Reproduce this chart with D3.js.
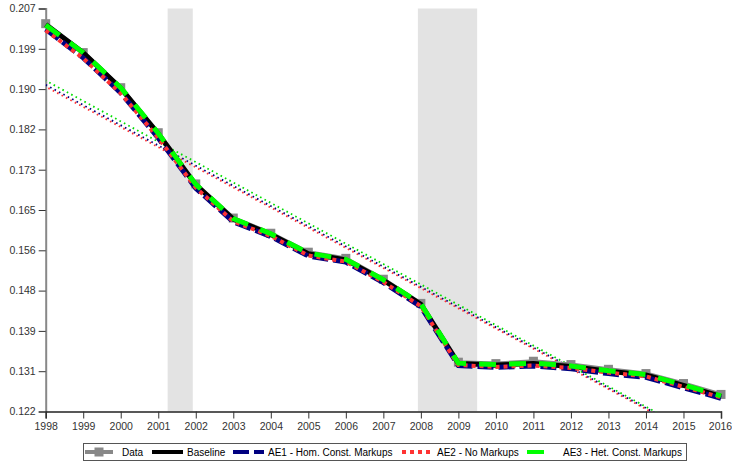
<!DOCTYPE html>
<html>
<head>
<meta charset="UTF-8">
<title>Markups</title>
<script src="https://cdn.jsdelivr.net/npm/d3@7"></script>
<style>
  body { margin: 0; background: #fff; }
  svg { font-family: "Liberation Sans", Arial, sans-serif; }
  .tick text { fill: #333; font-size: 10.5px; }
  .legend text { font-size: 10px; fill: #000; }
</style>
</head>
<body>
<div id="graphe"></div>
<script>
// années
var years = d3.range(1998, 2017);

var dataSeries = [0.2038, 0.1977, 0.1903, 0.1808, 0.1700, 0.1628, 0.1596, 0.1556, 0.1543, 0.1499,
                  0.1448, 0.1324, 0.1321, 0.1326, 0.1319, 0.1309, 0.1300, 0.1279, 0.1256];
var baseline   = [0.2036, 0.1977, 0.1902, 0.1806, 0.1698, 0.1626, 0.1594, 0.1553, 0.1540, 0.1497,
                  0.1446, 0.1321, 0.1318, 0.1321, 0.1315, 0.1305, 0.1297, 0.1275, 0.1252];
var ae1        = [0.2026, 0.1966, 0.1892, 0.1797, 0.1691, 0.1620, 0.1589, 0.1548, 0.1535, 0.1492,
                  0.1441, 0.1317, 0.1313, 0.1316, 0.1310, 0.1300, 0.1292, 0.1270, 0.1248];
var ae2        = [0.2024, 0.1965, 0.1891, 0.1797, 0.1692, 0.1621, 0.1590, 0.1549, 0.1536, 0.1493,
                  0.1442, 0.1318, 0.1314, 0.1317, 0.1312, 0.1302, 0.1294, 0.1272, 0.1250];
var ae3        = [0.2035, 0.1977, 0.1903, 0.1807, 0.1699, 0.1627, 0.1595, 0.1554, 0.1541, 0.1498,
                  0.1447, 0.1322, 0.1319, 0.1322, 0.1316, 0.1306, 0.1298, 0.1276, 0.1253];

// tendances linéaires (valeurs en 1998 et 2016)
var trendYears = [1998, 2016];
var trendAE1 = [0.1909, 0.1142];
var trendAE2 = [0.1905, 0.1140];
var trendAE3 = [0.1918, 0.1144];

// récessions
var recessions = [[2001.25, 2001.92], [2007.92, 2009.5]];

var yTickVals = [0.122, 0.1305, 0.139, 0.1475, 0.156, 0.1645, 0.173, 0.1815, 0.190, 0.1985, 0.207];
var yTickLabels = ["0.122", "0.131", "0.139", "0.148", "0.156", "0.165", "0.173", "0.182", "0.190", "0.199", "0.207"];

var legendLabels = ["Data", "Baseline", "AE1 - Hom. Const. Markups", "AE2 - No Markups", "AE3 - Het. Const. Markups"];

var width = 732, height = 462;
var svg = d3.select("#graphe").append("svg")
  .attr("width", width)
  .attr("height", height);

var x = d3.scaleLinear().domain([1998, 2016]).range([45.7, 721]);
var y = d3.scaleLinear().domain([0.122, 0.207]).range([411.5, 8.5]);

svg.append("clipPath").attr("id", "plot")
  .append("rect")
  .attr("x", x(1998)).attr("y", y(0.207))
  .attr("width", x(2016) - x(1998) + 10).attr("height", y(0.122) - y(0.207));

// zones grises
svg.append("g").selectAll("rect")
  .data(recessions)
  .enter().append("rect")
  .attr("x", function(d) { return x(d[0]); })
  .attr("width", function(d) { return x(d[1]) - x(d[0]); })
  .attr("y", y(0.207))
  .attr("height", y(0.122) - y(0.207))
  .style("fill", "#e3e3e3");

// axes
var yAxis = svg.append("g")
  .attr("transform", "translate(" + x(1998) + ",0)")
  .call(d3.axisLeft(y).tickValues(yTickVals).tickSize(7).tickPadding(3)
    .tickFormat(function(d, i) { return yTickLabels[i]; }));
yAxis.select(".domain").attr("stroke", "#888").attr("stroke-width", 2);
yAxis.selectAll(".tick line").attr("stroke", "#333");

var xAxis = svg.append("g")
  .attr("transform", "translate(0," + y(0.122) + ")")
  .call(d3.axisBottom(x).tickValues(years).tickSize(7).tickPadding(4).tickFormat(d3.format("d")));
xAxis.select(".domain").attr("stroke", "#222").attr("stroke-width", 1.5);
xAxis.selectAll(".tick line").attr("stroke", "#333");
xAxis.selectAll(".tick text").filter(function(d) { return d === 2016; }).attr("dx", "-1px");

// tendances
var trendLine = d3.line()
  .x(function(d, i) { return x(trendYears[i]); })
  .y(function(d) { return y(d); });

var gt = svg.append("g").attr("clip-path", "url(#plot)");
[[trendAE1, "#000080", 0], [trendAE2, "#ff3333", 2], [trendAE3, "#00dd00", 1]].forEach(function(t) {
  gt.append("path")
    .attr("d", trendLine(t[0]))
    .attr("fill", "none")
    .attr("stroke", t[1])
    .attr("stroke-width", 1.8)
    .attr("stroke-dasharray", "1.6,3.4")
    .attr("stroke-dashoffset", t[2]);
});

// séries
var line = d3.line()
  .x(function(d, i) { return x(years[i]); })
  .y(function(d) { return y(d); });

var styles = [
  { data: dataSeries, color: "#888888", width: 4, dash: null, len: 28 },
  { data: baseline, color: "#000000", width: 5, dash: null, len: 31 },
  { data: ae1, color: "#000080", width: 5, dash: "16,5", len: 31 },
  { data: ae2, color: "#ff3333", width: 4, dash: "4,4", len: 31 },
  { data: ae3, color: "#00ff00", width: 5, dash: "17,13", len: 28 }
];

styles.forEach(function(s, k) {
  svg.append("path")
    .attr("d", line(s.data))
    .attr("fill", "none")
    .attr("stroke", s.color)
    .attr("stroke-width", s.width)
    .attr("stroke-dasharray", s.dash);
  if (k === 0) {
    svg.append("g").selectAll("rect")
      .data(s.data)
      .enter().append("rect")
      .attr("x", function(d, i) { return x(years[i]) - 4.5; })
      .attr("y", function(d) { return y(d) - 4.5; })
      .attr("width", 9).attr("height", 9)
      .style("fill", "#888888");
  }
});

// légende
var leg = svg.append("g").attr("class", "legend");
leg.append("rect")
  .attr("x", 83.5).attr("y", 443.5).attr("width", 603).attr("height", 17)
  .attr("fill", "#fff").attr("stroke", "#555").attr("stroke-width", 1);

var legX = [85, 152, 233, 402, 527];
var legTx = [122, 187, 268, 437, 563];
legendLabels.forEach(function(lab, k) {
  var s = styles[k], x0 = legX[k], ly = 452;
  leg.append("line")
    .attr("x1", x0).attr("x2", x0 + s.len).attr("y1", ly).attr("y2", ly)
    .attr("stroke", s.color).attr("stroke-width", 4)
    .attr("stroke-dasharray", s.dash);
  if (k === 0) {
    leg.append("rect").attr("x", x0 + s.len / 2 - 4.5).attr("y", ly - 4.5)
      .attr("width", 9).attr("height", 9).style("fill", s.color);
  }
  leg.append("text")
    .attr("x", legTx[k]).attr("y", ly).attr("dy", "0.35em")
    .text(lab);
});
</script>
</body>
</html>
